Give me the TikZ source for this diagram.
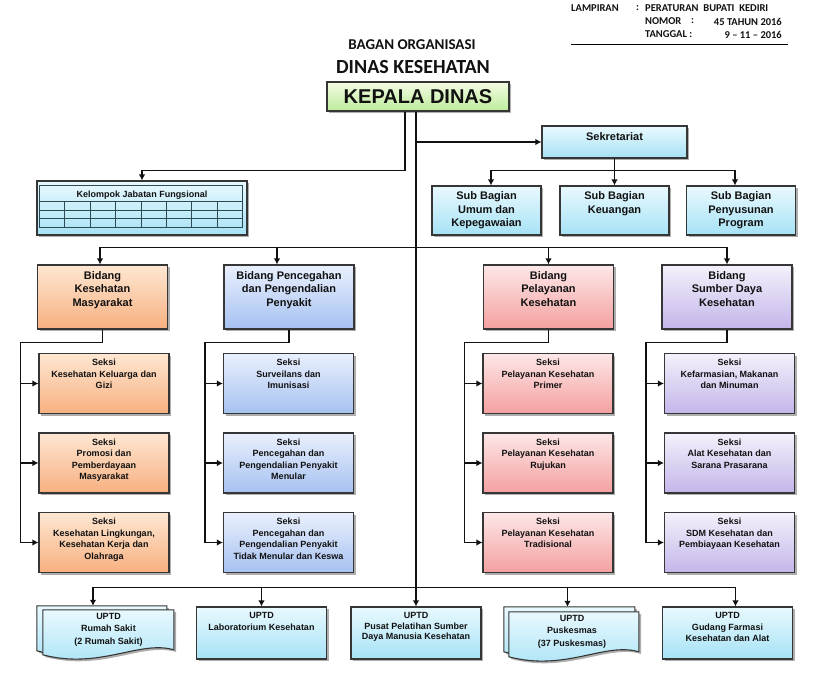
\documentclass[tikz,border=0pt]{standalone}
\usepackage{fontspec}
\setmainfont{Liberation Sans}
\newfontfamily\calibri{Carlito}
\usetikzlibrary{arrows.meta,positioning,shadows,calc}
\definecolor{ink}{HTML}{111111}
\definecolor{boxline}{HTML}{363636}
\definecolor{gridline}{HTML}{2E4B55}
\definecolor{cyantop}{HTML}{E9F9FE}
\definecolor{cyanbot}{HTML}{A6E2F6}
\definecolor{orangetop}{HTML}{FEE7D2}
\definecolor{orangebot}{HTML}{F7B080}
\definecolor{bluetop}{HTML}{E9F0FD}
\definecolor{bluebot}{HTML}{A6C1F1}
\definecolor{redtop}{HTML}{FDE7E7}
\definecolor{redbot}{HTML}{F4A0A0}
\definecolor{purpletop}{HTML}{F4F1FB}
\definecolor{purplebot}{HTML}{C4B5EA}
\definecolor{greentop}{HTML}{F4FCE2}
\definecolor{greenbot}{HTML}{BDEB9C}
\tikzset{
  every node/.style={font=\bfseries\fontsize{9}{11}\selectfont, text=ink},
  shade/.style={drop shadow={shadow xshift=2.2pt, shadow yshift=-2.2pt, opacity=0.45, fill=black!70}},
  box/.style={draw=boxline, line width=1.1pt, inner sep=0pt, shade},
  cyanbox/.style={box, top color=cyantop, bottom color=cyanbot},
  orangebox/.style={box, top color=orangetop, bottom color=orangebot},
  bluebox/.style={box, top color=bluetop, bottom color=bluebot},
  redbox/.style={box, top color=redtop, bottom color=redbot},
  purplebox/.style={box, top color=purpletop, bottom color=purplebot},
  greenbox/.style={box, top color=greentop, bottom color=greenbot},
  subbox/.style={minimum width=109pt, minimum height=49pt},
  bidbox/.style={minimum width=130pt, minimum height=64pt},
  seksibox/.style={minimum width=130pt, minimum height=60pt},
  uptdbox/.style={minimum width=130pt, minimum height=52pt},
  docsheet/.style={draw=boxline, line width=1.1pt, top color=cyantop, bottom color=cyanbot, shade},
  txt/.style={align=center, inner sep=0pt, font=\bfseries\fontsize{9}{11.5}\selectfont},
  doctxt/.style={txt, font=\bfseries\fontsize{9}{12.5}\selectfont},
  bigtxt/.style={align=center, inner sep=0pt, font=\bfseries\fontsize{11}{13.5}\selectfont},
  hdr/.style={inner sep=0pt, font=\calibri\bfseries\fontsize{10.5}{12}\selectfont},
  gridln/.style={draw=gridline, line width=0.7pt},
  link/.style={draw=ink, line width=1.8pt},
  arrow/.style={link, -{Latex[length=6pt,width=6.5pt]}},
}
\begin{document}
\begin{tikzpicture}[x=1pt,y=-1pt]
\useasboundingbox (0,0) rectangle (820,680);
\fill[white] (0,0) rectangle (820,680);

% lampiran
\node[hdr, anchor=west] (hl1) at (571,8) {LAMPIRAN};
\node[hdr, anchor=west] (hc1) at (636,8) {:};
\node[hdr, anchor=west] (hv1) at (645,8) {PERATURAN\ \ BUPATI\ \ KEDIRI};
\node[hdr, anchor=west] (hl2) at (645,21.5) {NOMOR};
\node[hdr, anchor=west] (hc2) at (691,21.5) {:};
\node[hdr, anchor=east] (hv2) at (782,21.5) {45 TAHUN 2016};
\node[hdr, anchor=west] (hl3) at (645,34.5) {TANGGAL :};
\node[hdr, anchor=east] (hv3) at (782,34.5) {9 – 11 – 2016};
\draw[line width=0.9pt] (571,44) -- (788,44);

% judul
\node[font=\calibri\bfseries\fontsize{15}{18}\selectfont] (t1) at (412,45) {BAGAN ORGANISASI};
\node[font=\calibri\bfseries\fontsize{20}{24}\selectfont] (t2) at (413,67) {DINAS KESEHATAN};
\node[greenbox, minimum width=182pt, minimum height=29pt, font=\bfseries\fontsize{20}{24}\selectfont] (kd) at (418,96.5) {KEPALA DINAS};

% sekretariat
\node[cyanbox, minimum width=145pt, minimum height=32pt] (sek) at (614.5,142) {};
\node[bigtxt, below=7pt of sek.north] (sekt) {Sekretariat};
\node[cyanbox, subbox] (sb1) at (486.5,210.5) {};
\node[bigtxt, below=6pt of sb1.north] (sb1t) {Sub Bagian\\Umum dan\\Kepegawaian};
\node[cyanbox, subbox] (sb2) at (614.5,210.5) {};
\node[bigtxt, below=6pt of sb2.north] (sb2t) {Sub Bagian\\Keuangan};
\node[cyanbox, subbox] (sb3) at (741,210.5) {};
\node[bigtxt, below=6pt of sb3.north] (sb3t) {Sub Bagian\\Penyusunan\\Program};

% kelompok jabatan fungsional
\node[cyanbox, minimum width=210pt, minimum height=54pt] (kjf) at (142,208) {};
\begin{scope}[shift={(kjf.north west)}]
  \draw[gridln] (3,5) rectangle (206,47);
  \foreach \y in {21,30,38} \draw[gridln] (3,\y) -- (206,\y);
  \foreach \i in {1,...,7} \draw[gridln] (3+\i*25.375,21) -- (3+\i*25.375,47);
\end{scope}
\node[below=10pt of kjf.north, inner sep=0pt] (kjft) {Kelompok Jabatan Fungsional};

% bidang
\node[orangebox, bidbox] (b1) at (102.5,297) {};
\node[bigtxt, below=6.5pt of b1.north] (b1t) {Bidang\\Kesehatan\\Masyarakat};
\node[bluebox, bidbox] (b2) at (289,297) {};
\node[bigtxt, below=6.5pt of b2.north] (b2t) {Bidang Pencegahan\\dan Pengendalian\\Penyakit};
\node[redbox, bidbox] (b3) at (548.5,297) {};
\node[bigtxt, below=6.5pt of b3.north] (b3t) {Bidang\\Pelayanan\\Kesehatan};
\node[purplebox, bidbox] (b4) at (727,297) {};
\node[bigtxt, below=6.5pt of b4.north] (b4t) {Bidang\\Sumber Daya\\Kesehatan};

% seksi
\node[orangebox, seksibox] (k1) at (104,383.5) {};
\node[txt, below=6pt of k1.north] (k1t) {Seksi\\Kesehatan Keluarga dan\\Gizi};
\node[orangebox, seksibox] (k2) at (104,463) {};
\node[txt, below=6pt of k2.north] (k2t) {Seksi\\Promosi dan\\Pemberdayaan\\Masyarakat};
\node[orangebox, seksibox] (k3) at (104,542.5) {};
\node[txt, below=6pt of k3.north] (k3t) {Seksi\\Kesehatan Lingkungan,\\Kesehatan Kerja dan\\Olahraga};
\node[bluebox, seksibox] (p1) at (288.5,383.5) {};
\node[txt, below=6pt of p1.north] (p1t) {Seksi\\Surveilans dan\\Imunisasi};
\node[bluebox, seksibox] (p2) at (288.5,463) {};
\node[txt, below=6pt of p2.north] (p2t) {Seksi\\Pencegahan dan\\Pengendalian Penyakit\\Menular};
\node[bluebox, seksibox] (p3) at (288.5,542.5) {};
\node[txt, below=6pt of p3.north] (p3t) {Seksi\\Pencegahan dan\\Pengendalian Penyakit\\Tidak Menular dan Keswa};
\node[redbox, seksibox] (l1) at (548,383.5) {};
\node[txt, below=6pt of l1.north] (l1t) {Seksi\\Pelayanan Kesehatan\\Primer};
\node[redbox, seksibox] (l2) at (548,463) {};
\node[txt, below=6pt of l2.north] (l2t) {Seksi\\Pelayanan Kesehatan\\Rujukan};
\node[redbox, seksibox] (l3) at (548,542.5) {};
\node[txt, below=6pt of l3.north] (l3t) {Seksi\\Pelayanan Kesehatan\\Tradisional};
\node[purplebox, seksibox] (s1) at (729.5,383.5) {};
\node[txt, below=6pt of s1.north] (s1t) {Seksi\\Kefarmasian, Makanan\\dan Minuman};
\node[purplebox, seksibox] (s2) at (729.5,463) {};
\node[txt, below=6pt of s2.north] (s2t) {Seksi\\Alat Kesehatan dan\\Sarana Prasarana};
\node[purplebox, seksibox] (s3) at (729.5,542.5) {};
\node[txt, below=6pt of s3.north] (s3t) {Seksi\\SDM Kesehatan dan\\Pembiayaan Kesehatan};

% uptd
\node[minimum width=130pt, minimum height=49pt, inner sep=0pt] (rs) at (102,630.5) {};
\begin{scope}[shift={(rs.north west)}]
  \path[docsheet] (0,0) -- (130,0) -- (130,40) .. controls (96,30) and (56,60) .. (0,45) -- cycle;
  \path[docsheet] (6,4) -- (137,4) -- (137,44) .. controls (103,34) and (63,64) .. (6,49) -- cycle;
\end{scope}
\node[doctxt, anchor=north] (rst) at ([shift={(6.5,7)}]rs.north) {UPTD\\Rumah Sakit\\(2 Rumah Sakit)};
\node[cyanbox, uptdbox] (lab) at (261.5,633) {};
\node[txt, below=6pt of lab.north] (labt) {UPTD\\Laboratorium Kesehatan};
\node[cyanbox, uptdbox] (pp) at (416,633) {};
\node[txt, below=6pt of pp.north, font=\bfseries\fontsize{9}{10.5}\selectfont] (ppt) {UPTD\\Pusat Pelatihan Sumber\\Daya Manusia Kesehatan};
\node[minimum width=131pt, minimum height=49pt, inner sep=0pt] (pk) at (569.5,631.5) {};
\begin{scope}[shift={(pk.north west)}]
  \path[docsheet] (0,0) -- (131,0) -- (131,40) .. controls (97,30) and (57,60) .. (0,45) -- cycle;
  \path[docsheet] (5,5) -- (135,5) -- (135,45) .. controls (101,35) and (62,65) .. (5,50) -- cycle;
\end{scope}
\node[doctxt, anchor=north] (pkt) at ([shift={(2.5,8)}]pk.north) {UPTD\\Puskesmas\\(37 Puskesmas)};
\node[cyanbox, uptdbox] (gf) at (727.5,633) {};
\node[txt, below=6pt of gf.north] (gft) {UPTD\\Gudang Farmasi\\Kesehatan dan Alat};

% garis
\draw[arrow] ([xshift=-13pt]kd.south) -- ++(0,59) -| (kjf.north);
\draw[arrow] ([xshift=-2pt]kd.south) -- (pp.north);
\coordinate (jsek) at (pp.north |- sek.west);
\draw[arrow] (jsek) -- (sek.west);
\draw[link] (sek.south) -- ++(0,12) coordinate (jsb);
\draw[arrow] (jsb) -| ([xshift=4.5pt]sb1.north);
\draw[arrow] (jsb) -- (sb2.north);
\draw[arrow] (jsb) -| ([xshift=-6pt]sb3.north);
\coordinate (jbid) at ([yshift=17pt]pp.north |- b1.north);
\draw[arrow] (jbid) -| ([xshift=-2.5pt]b1.north);
\draw[arrow] (jbid) -| ([xshift=-12pt]b2.north);
\draw[arrow] (jbid) -| (b3.north);
\draw[arrow] (jbid) -| (b4.north);
\foreach \b/\s in {b1/k, b2/p, b3/l, b4/s} {
  \draw[link] (\b.south) -- ++(0,13) -| ([xshift=-18pt]\s3.west);
  \foreach \n in {1,2,3} \draw[arrow] ([xshift=-18pt]\s\n.west) -- (\s\n.west);
}
\coordinate (jup) at ([yshift=19pt]pp.north);
\draw[arrow] (jup) -| ([xshift=-9pt]rs.north);
\draw[arrow] (jup) -| (lab.north);
\draw[arrow] (jup) -| ([xshift=-2pt]pk.north);
\draw[arrow] (jup) -| ([xshift=8pt]gf.north);
\end{tikzpicture}
\end{document}
